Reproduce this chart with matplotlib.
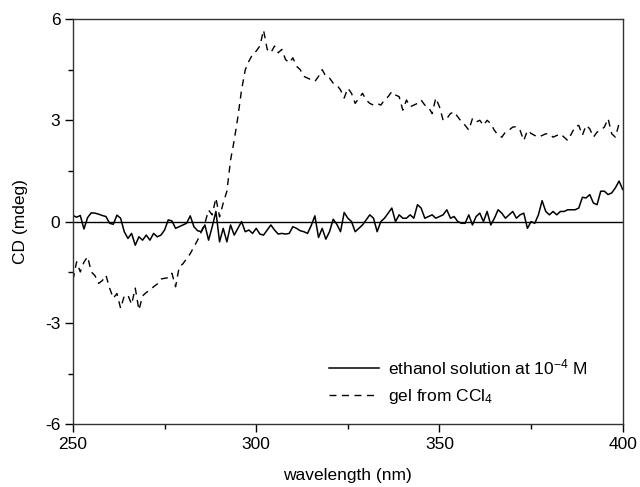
import numpy as np
import matplotlib
matplotlib.use("Agg")
import matplotlib.pyplot as plt
from matplotlib.ticker import MultipleLocator

plt.rcParams.update({
    "font.family": "Liberation Sans",
    "font.size": 12.5,
    "mathtext.fontset": "custom",
    "mathtext.rm": "Liberation Sans",
    "mathtext.it": "Liberation Sans:italic",
    "axes.unicode_minus": False,
})

# wavelength grid (nm), one reading per nm
wavelength = np.arange(250, 401)

# ethanol solution at 1e-4 M (solid)
cd_ethanol = [
    0.18, 0.13, 0.18, -0.22, 0.12, 0.26, 0.25, 0.22, 0.18, 0.15,
    -0.05, -0.08, 0.19, 0.10, -0.30, -0.50, -0.35, -0.70, -0.45, -0.55,
    -0.40, -0.55, -0.35, -0.45, -0.40, -0.25, 0.05, 0.02, -0.20, -0.15,
    -0.10, -0.05, 0.17, -0.15, -0.27, -0.30, -0.10, -0.55, -0.15, 0.30,
    -0.60, -0.20, -0.60, -0.10, -0.40, -0.20, 0.00, -0.30, -0.25, -0.35,
    -0.20, -0.37, -0.40, -0.25, -0.10, -0.25, -0.37, -0.35, -0.37, -0.35,
    -0.15, -0.20, -0.27, -0.30, -0.35, -0.12, 0.17, -0.47, -0.20, -0.52,
    -0.30, 0.07, -0.08, -0.30, 0.27, 0.10, 0.00, -0.30, -0.20, -0.10,
    0.05, 0.20, 0.10, -0.30, 0.00, 0.10, 0.25, 0.40, 0.00, 0.20,
    0.10, 0.10, 0.20, 0.10, 0.50, 0.40, 0.10, 0.15, 0.20, 0.10,
    0.15, 0.20, 0.35, 0.10, 0.15, 0.00, -0.05, -0.05, 0.20, -0.10,
    0.15, 0.25, 0.00, 0.30, -0.10, 0.10, 0.35, 0.25, 0.10, 0.20,
    0.30, 0.10, 0.20, 0.25, -0.20, 0.00, -0.05, 0.20, 0.62, 0.30,
    0.20, 0.30, 0.20, 0.30, 0.30, 0.35, 0.35, 0.35, 0.40, 0.72,
    0.70, 0.80, 0.55, 0.50, 0.90, 0.90, 0.80, 0.85, 1.00, 1.20,
    0.95,
]

# gel from CCl4 (dashed)
cd_gel = [
    -1.73, -1.19, -1.49, -1.20, -1.04, -1.49, -1.60, -1.83, -1.75, -1.59,
    -1.97, -2.27, -2.13, -2.57, -2.20, -2.18, -2.45, -1.97, -2.62, -2.20,
    -2.10, -2.03, -1.93, -1.85, -1.70, -1.68, -1.66, -1.53, -1.93, -1.34,
    -1.25, -1.10, -0.95, -0.75, -0.55, -0.30, -0.05, 0.34, 0.20, 0.70,
    0.14, 0.55, 0.90, 1.82, 2.41, 3.10, 3.90, 4.49, 4.75, 4.95,
    5.05, 5.20, 5.67, 5.10, 5.00, 5.20, 5.00, 5.10, 4.80, 4.70,
    4.85, 4.60, 4.50, 4.30, 4.25, 4.20, 4.15, 4.30, 4.50, 4.30,
    4.25, 4.10, 4.04, 3.90, 3.66, 3.95, 3.80, 3.50, 3.65, 3.80,
    3.60, 3.50, 3.45, 3.50, 3.45, 3.60, 3.70, 3.85, 3.75, 3.70,
    3.30, 3.60, 3.40, 3.45, 3.50, 3.60, 3.45, 3.39, 3.20, 3.66,
    3.40, 3.00, 3.05, 3.20, 3.25, 3.10, 2.96, 2.85, 2.71, 3.05,
    2.95, 3.00, 2.85, 3.00, 2.90, 2.70, 2.56, 2.50, 2.65, 2.71,
    2.80, 2.81, 2.70, 2.40, 2.70, 2.61, 2.55, 2.50, 2.55, 2.60,
    2.60, 2.50, 2.55, 2.60, 2.50, 2.40, 2.60, 2.81, 2.85, 2.56,
    2.85, 2.75, 2.50, 2.65, 2.71, 2.80, 3.05, 2.60, 2.50, 2.90,
    2.85,
]

label_ethanol = r"ethanol solution at 10$^{\mathrm{-4}}$ M"
label_gel = r"gel from CCl$_4$"

fig = plt.figure(figsize=(6.4, 4.87), dpi=100)
ax = fig.add_axes([0.114, 0.129, 0.859, 0.832])

ax.plot(wavelength, cd_ethanol, color="black", lw=1.1, label=label_ethanol)
ax.plot(wavelength, cd_gel, color="black", lw=1.0, dashes=(5, 4), label=label_gel)
ax.axhline(0, color="black", lw=1.0)

ax.set_xlim(250, 400)
ax.set_ylim(-6, 6)
ax.xaxis.set_major_locator(MultipleLocator(50))
ax.xaxis.set_minor_locator(MultipleLocator(25))
ax.yaxis.set_major_locator(MultipleLocator(3))
ax.yaxis.set_minor_locator(MultipleLocator(1.5))
ax.tick_params(which="both", direction="out", top=False, right=False, width=1.0)
ax.tick_params(which="major", length=5.5)
ax.tick_params(which="minor", length=3.5)

for s in ax.spines.values():
    s.set_linewidth(1.0)
    s.set_color("#333333")

ax.set_xlabel("wavelength (nm)", labelpad=12)
ax.set_ylabel("CD (mdeg)", labelpad=12)

ax.legend(loc="lower left", bbox_to_anchor=(0.465, 0.045), frameon=False,
          handlelength=2.9, handletextpad=0.55, labelspacing=0.55,
          borderaxespad=0, borderpad=0)

fig.savefig("out.png", dpi=100)
